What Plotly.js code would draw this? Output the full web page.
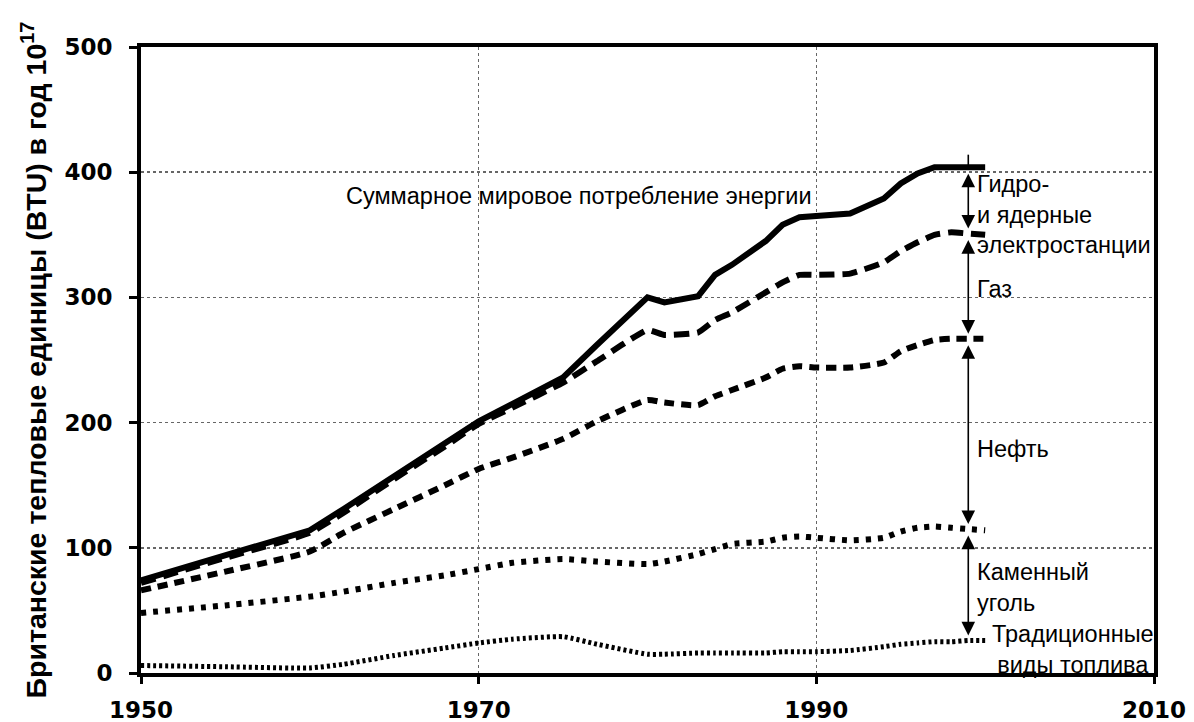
<!DOCTYPE html>
<html>
<head>
<meta charset="utf-8">
<script src="https://cdn.plot.ly/plotly-3.0.1.min.js"></script>
<style>
  html, body { margin: 0; padding: 0; background: #fff; }
  #chart { width: 1194px; height: 722px; }
</style>
</head>
<body>
<div id="chart"></div>
<script>
// ---- Data (10^17 BTU per year) ----
const years = [1950,1955,1960,1962,1965,1968,1970,1972,1975,1977,1980,1981,1983,1984,1985,1987,1988,1989,1990,1992,1994,1995,1996,1997,1998,1999,2000];
// Cumulative totals (stacked from the bottom)
const totalAll   = [74,94,114,131,157,183,201,215,236,262,300,296,301,318,326,345,358,364,365,367,379,391,399,404,404,404,404]; // all sources incl. hydro & nuclear
const upToGas    = [72,92,112,128,155,181,199,212,232,249,274,270,272,282,288,304,312,318,318,319,328,337,344,350,352,351,350]; // traditional + coal + oil + gas
const upToOil    = [66,81,97,112,131,150,163,172,187,201,218,216,214,221,226,236,243,245,244,244,248,257,262,266,267,267,267]; // traditional + coal + oil
const upToCoal   = [48,54,61,65,72,78,83,88,91,89,87,89,95,99,103,105,108,109,108,106,108,113,116,117,116,115,114]; // traditional + coal
const traditional= [6,5,4,7,14,20,24,27,29,23,15,15,16,16,16,16,17,17,17,18,21,23,24,25,25,26,26];

const xTicks = [1950, 1970, 1990, 2010];
const yTicks = [0, 100, 200, 300, 400, 500];

const titleText = 'Суммарное мировое потребление энергии';
const labelHydro = 'Гидро-<br>и ядерные<br>электростанции';
const labelGas = 'Газ';
const labelOil = 'Нефть';
const labelCoal = 'Каменный<br>уголь';
const labelTrad = 'Традиционные<br>виды топлива';
const yTitle = 'Британские тепловые единицы (BTU) в год 10<sup>17</sup>';

// ---- Traces ----
const traces = [
  { x: years, y: traditional, mode: 'lines', line: { color: '#000', width: 5, dash: '3px,3px', shape: 'spline', smoothing: 0.5 }, hoverinfo: 'skip' },
  { x: years, y: upToCoal, mode: 'lines', line: { color: '#000', width: 6, dash: '5px,7px', shape: 'spline', smoothing: 0.5 }, hoverinfo: 'skip' },
  { x: years, y: upToOil, mode: 'lines', line: { color: '#000', width: 6, dash: '10px,7px', shape: 'spline', smoothing: 0.5 }, hoverinfo: 'skip' },
  { x: years, y: upToGas, mode: 'lines', line: { color: '#000', width: 6, dash: '15px,8px', shape: 'spline', smoothing: 0.4 }, hoverinfo: 'skip' },
  { x: years, y: totalAll, mode: 'lines', line: { color: '#000', width: 6 }, hoverinfo: 'skip' }
];

// ---- Arrows at the right end (drawn from the series values) ----
const iArrow = years.indexOf(1999);
const xArrow = years[iArrow];
const levels = [totalAll[iArrow], upToGas[iArrow], upToOil[iArrow], upToCoal[iArrow], traditional[iArrow]];
const gapU = 4; // units
const arrowAnns = [];
for (let k = 0; k < levels.length - 1; k++) {
  const top = levels[k] - gapU, bot = levels[k + 1] + gapU;
  arrowAnns.push({
    x: xArrow, y: bot, ax: xArrow, ay: top, xref: 'x', yref: 'y', axref: 'x', ayref: 'y',
    text: '', showarrow: true, arrowside: 'end+start', arrowhead: 2, arrowsize: 1.7, arrowwidth: 1.6, arrowcolor: '#000'
  });
}

const txtFont = { family: 'Liberation Sans, Arial, sans-serif', size: 23.5, color: '#000' };
const labelAnns = [
  { x: 1962.0, y: 381, text: titleText, xanchor: 'left', yanchor: 'middle' },
  { x: 1999.4, y: 366, text: labelHydro, xanchor: 'left', yanchor: 'middle', align: 'left' },
  { x: 1999.4, y: 307, text: labelGas, xanchor: 'left', yanchor: 'middle' },
  { x: 1999.4, y: 179, text: labelOil, xanchor: 'left', yanchor: 'middle' },
  { x: 1999.4, y: 68, text: labelCoal, xanchor: 'left', yanchor: 'middle', align: 'left' },
  { x: 2005.2, y: 19, text: labelTrad, xanchor: 'center', yanchor: 'middle', align: 'center' }
].map(a => Object.assign({ xref: 'x', yref: 'y', showarrow: false, font: txtFont }, a));

const shapes = [
  { type: 'line', xref: 'x', yref: 'y', x0: xArrow, x1: xArrow, y0: levels[0], y1: levels[0] + 10, line: { color: '#000', width: 1.6 } }
];

const layout = {
  width: 1194, height: 722,
  margin: { l: 141, r: 40, t: 47, b: 49 },
  paper_bgcolor: '#fff', plot_bgcolor: '#fff',
  showlegend: false,
  font: { family: 'Liberation Sans, Arial, sans-serif', color: '#000' },
  xaxis: {
    range: [1950, 2010], tickvals: xTicks, ticktext: xTicks.map(String),
    showline: true, linecolor: '#000', linewidth: 4, mirror: true,
    ticks: 'outside', ticklen: 7, tickwidth: 3, tickcolor: '#000',
    tickfont: { family: 'DejaVu Sans, sans-serif', size: 23, weight: 'bold', color: '#000' },
    ticklabelstandoff: 6,
    showgrid: true, gridcolor: '#666', gridwidth: 1.5, griddash: 'dot',
    zeroline: false, fixedrange: true
  },
  yaxis: {
    range: [0, 500], tickvals: yTicks, ticktext: yTicks.map(String),
    showline: true, linecolor: '#000', linewidth: 4, mirror: true,
    ticks: 'outside', ticklen: 8, tickwidth: 3, tickcolor: '#000',
    tickfont: { family: 'DejaVu Sans, sans-serif', size: 23, weight: 'bold', color: '#000' },
    ticklabelstandoff: 12,
    showgrid: true, gridcolor: '#666', gridwidth: 1.5, griddash: 'dot',
    zeroline: false, fixedrange: true,
    title: { text: yTitle, font: { family: 'Liberation Sans, Arial, sans-serif', size: 28.5, weight: 'bold', color: '#000' }, standoff: 10 }
  },
  annotations: arrowAnns.concat(labelAnns),
  shapes: shapes
};

Plotly.newPlot('chart', traces, layout, { staticPlot: true, displayModeBar: false });
</script>
</body>
</html>
